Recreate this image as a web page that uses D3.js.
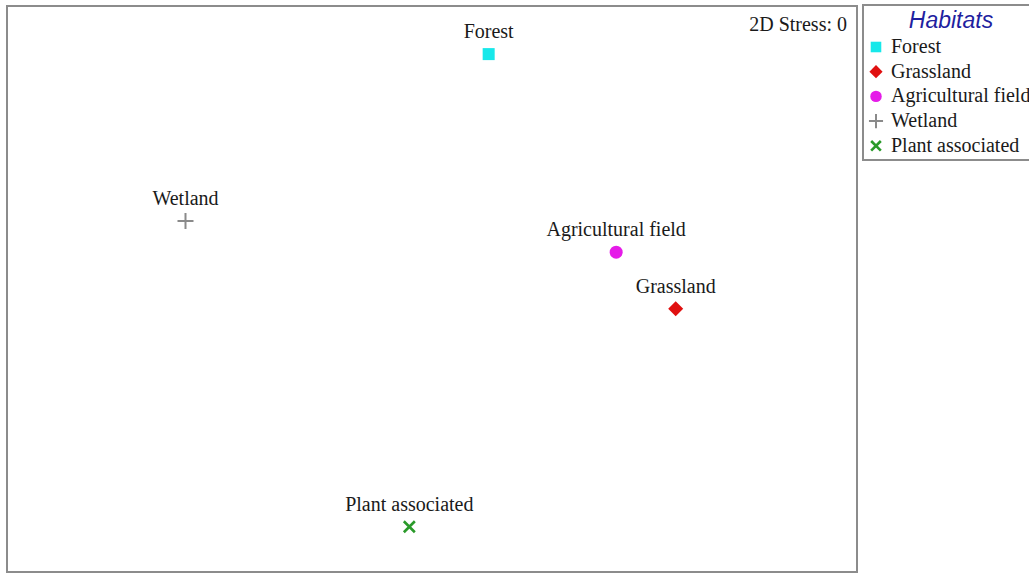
<!DOCTYPE html>
<html>
<head>
<meta charset="utf-8">
<script src="https://cdn.jsdelivr.net/npm/d3@7"></script>
<style>
  html, body { margin: 0; padding: 0; background: #fff; }
  svg { display: block; }
</style>
</head>
<body>
<svg id="chart" width="1029" height="574"></svg>
<script>
// nMDS ordination of habitats (2D)
const habitats = ["Forest", "Grassland", "Agricultural field", "Wetland", "Plant associated"];
const mds1 = [0.20, 0.86, 0.65, -0.87, -0.08];
const mds2 = [0.83, -0.07, 0.13, 0.24, -0.84];
const symbols = ["square", "diamond", "circle", "plus", "cross"];
const colors = ["#17e8ea", "#e01010", "#e51ce8", "#8a8a8a", "#2a9a2a"];
const stressText = "2D Stress: 0";
const legendTitle = "Habitats";

const SERIF = '"Liberation Serif"';
const SANS = '"Liberation Sans"';

const svg = d3.select("#chart");
const frame = { left: 7, top: 6, right: 857, bottom: 572 };

const x = d3.scaleLinear().domain([-1.5, 1.5]).range([frame.left, frame.right]);
const y = d3.scaleLinear().domain([-1, 1]).range([frame.bottom, frame.top]);

// plot frame
svg.append("rect")
  .attr("x", frame.left).attr("y", frame.top)
  .attr("width", frame.right - frame.left).attr("height", frame.bottom - frame.top)
  .attr("fill", "none").attr("stroke", "#8c8c8c").attr("stroke-width", 2);

// marker drawing, s = scale factor
function drawMarker(g, kind, color, s) {
  if (kind === "square") {
    g.append("rect").attr("x", -6 * s).attr("y", -6 * s).attr("width", 12 * s).attr("height", 12 * s).attr("fill", color);
  } else if (kind === "diamond") {
    const r = 7.5 * s;
    g.append("path").attr("d", `M0,${-r}L${r},0L0,${r}L${-r},0Z`).attr("fill", color);
  } else if (kind === "circle") {
    g.append("circle").attr("r", 6.5 * s).attr("fill", color);
  } else if (kind === "plus") {
    const r = 8 * s;
    g.append("path").attr("d", `M${-r},0H${r}M0,${-r}V${r}`).attr("stroke", color).attr("stroke-width", 2).attr("fill", "none");
  } else if (kind === "cross") {
    const r = 5.5 * s;
    g.append("path").attr("d", `M${-r},${-r}L${r},${r}M${-r},${r}L${r},${-r}`).attr("stroke", color).attr("stroke-width", 2.6).attr("fill", "none");
  }
}

const pts = svg.append("g").selectAll("g")
  .data(habitats.map((h, i) => ({ name: h, a: mds1[i], b: mds2[i], sym: symbols[i], col: colors[i] })))
  .join("g")
  .attr("transform", d => `translate(${x(d.a)},${y(d.b)})`);

pts.each(function(d) { drawMarker(d3.select(this), d.sym, d.col, 1); });

pts.append("text")
  .attr("y", -16)
  .attr("text-anchor", "middle")
  .style("font-family", SERIF)
  .style("font-size", "20px")
  .attr("fill", "#1a1a1a")
  .text(d => d.name);

// stress annotation
svg.append("text")
  .attr("x", 847).attr("y", 31)
  .attr("text-anchor", "end")
  .style("font-family", SERIF)
  .style("font-size", "20px")
  .attr("fill", "#1a1a1a")
  .text(stressText);

// legend
const leg = svg.append("g");
leg.append("rect")
  .attr("x", 863).attr("y", 5).attr("width", 180).attr("height", 155)
  .attr("fill", "#fff").attr("stroke", "#8c8c8c").attr("stroke-width", 2);

leg.append("text")
  .attr("x", 951).attr("y", 28)
  .attr("text-anchor", "middle")
  .style("font-family", SANS)
  .style("font-style", "italic")
  .style("font-size", "23px")
  .attr("fill", "#1f1fa0")
  .text(legendTitle);

const items = leg.selectAll("g.item")
  .data(habitats.map((h, i) => ({ name: h, sym: symbols[i], col: colors[i] })))
  .join("g").attr("class", "item")
  .attr("transform", (d, i) => `translate(876,${47 + i * 24.7})`);

items.each(function(d) { drawMarker(d3.select(this), d.sym, d.col, 0.88); });

items.append("text")
  .attr("x", 15).attr("y", 6)
  .style("font-family", SERIF)
  .style("font-size", "20px")
  .attr("fill", "#1a1a1a")
  .text(d => d.name);
</script>
</body>
</html>
